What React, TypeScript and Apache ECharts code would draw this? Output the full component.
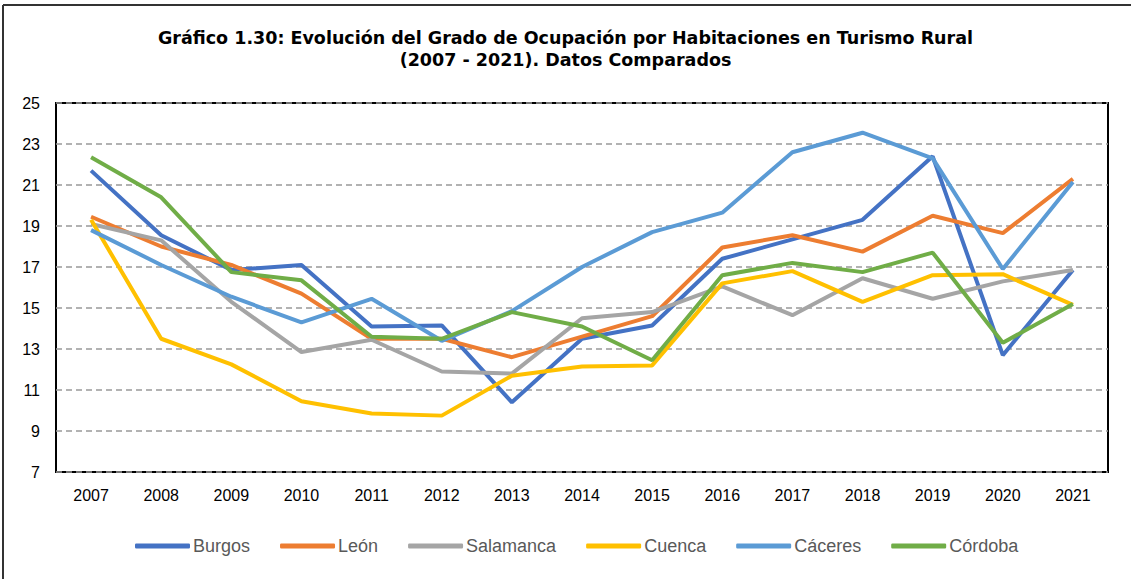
import React, { useEffect, useRef } from "react";
import * as echarts from "echarts";

const years = ["2007","2008","2009","2010","2011","2012","2013","2014","2015","2016","2017","2018","2019","2020","2021"];
const burgos = [21.7, 18.55, 16.85, 17.1, 14.1, 14.15, 10.4, 13.5, 14.15, 17.4, 18.35, 19.3, 22.4, 12.7, 16.85];
const leon = [19.45, 18.0, 17.1, 15.7, 13.5, 13.5, 12.6, 13.6, 14.6, 17.95, 18.55, 17.75, 19.5, 18.65, 21.3];
const salamanca = [19.1, 18.3, 15.3, 12.85, 13.45, 11.9, 11.8, 14.5, 14.8, 16.05, 14.65, 16.45, 15.45, 16.3, 16.85];
const cuenca = [19.3, 13.5, 12.25, 10.45, 9.85, 9.75, 11.7, 12.15, 12.2, 16.2, 16.8, 15.3, 16.6, 16.65, 15.15];
const caceres = [18.8, 17.1, 15.55, 14.3, 15.45, 13.4, 14.85, 17.0, 18.7, 19.65, 22.6, 23.55, 22.3, 16.9, 21.15];
const cordoba = [22.35, 20.4, 16.75, 16.35, 13.6, 13.5, 14.8, 14.1, 12.45, 16.6, 17.2, 16.75, 17.7, 13.3, 15.2];

const seriesDefs = [
  { name: "Burgos", data: burgos, color: "#4472C4" },
  { name: "León", data: leon, color: "#ED7D31" },
  { name: "Salamanca", data: salamanca, color: "#A5A5A5" },
  { name: "Cuenca", data: cuenca, color: "#FFC000" },
  { name: "Cáceres", data: caceres, color: "#5B9BD5" },
  { name: "Córdoba", data: cordoba, color: "#70AD47" },
];

export default function App() {
  const ref = useRef<HTMLDivElement>(null);
  useEffect(() => {
    if (!ref.current) return;
    const chart = echarts.init(ref.current, null, { renderer: "svg" });
    chart.setOption({
      animation: false,
      backgroundColor: "#fff",
      title: {
        text: "Gráfico 1.30: Evolución del Grado de Ocupación por Habitaciones en Turismo Rural\n(2007 - 2021). Datos Comparados",
        left: "center",
        top: 22,
        textStyle: {
          fontFamily: "DejaVu Sans",
          fontWeight: "bold",
          fontSize: 17.5,
          lineHeight: 22,
          color: "#000",
        },
      },
      graphic: [
        { type: "line", shape: { x1: 3, y1: 5, x2: 1131, y2: 5 }, style: { stroke: "#333", lineWidth: 2 } },
        { type: "line", shape: { x1: 3, y1: 5, x2: 3, y2: 579 }, style: { stroke: "#333", lineWidth: 2 } },
      ],
      legend: {
        bottom: 19,
        left: 130,
        icon: "roundRect",
        itemWidth: 55,
        itemHeight: 5,
        itemGap: 30,
        textStyle: { fontFamily: "Liberation Sans", fontSize: 18, color: "#595959", padding: [0, 0, 0, -2] },
        data: seriesDefs.map((s) => s.name),
      },
      grid: {
        left: 56,
        right: 23,
        top: 103,
        bottom: 107,
        show: true,
        borderColor: "#000",
        borderWidth: 2,
        backgroundColor: "transparent",
      },
      xAxis: {
        type: "category",
        data: years,
        boundaryGap: true,
        axisLine: { show: false },
        axisTick: { show: false },
        axisLabel: { fontFamily: "Liberation Sans", fontSize: 16, color: "#000", margin: 15 },
      },
      yAxis: {
        type: "value",
        min: 7,
        max: 25,
        interval: 2,
        axisLine: { show: false },
        axisTick: { show: false },
        axisLabel: { fontFamily: "Liberation Sans", fontSize: 16, color: "#000", margin: 16 },
        splitLine: { show: true, lineStyle: { color: "#999", type: [6, 4], width: 1.5 } },
      },
      series: seriesDefs.map((s) => ({
        name: s.name,
        type: "line",
        data: s.data,
        symbol: "none",
        color: s.color,
        lineStyle: { color: s.color, width: 4 },
      })),
    });
    return () => chart.dispose();
  }, []);
  return <div ref={ref} style={{ position: "fixed", left: 0, top: 0, width: 1131, height: 579 }} />;
}
